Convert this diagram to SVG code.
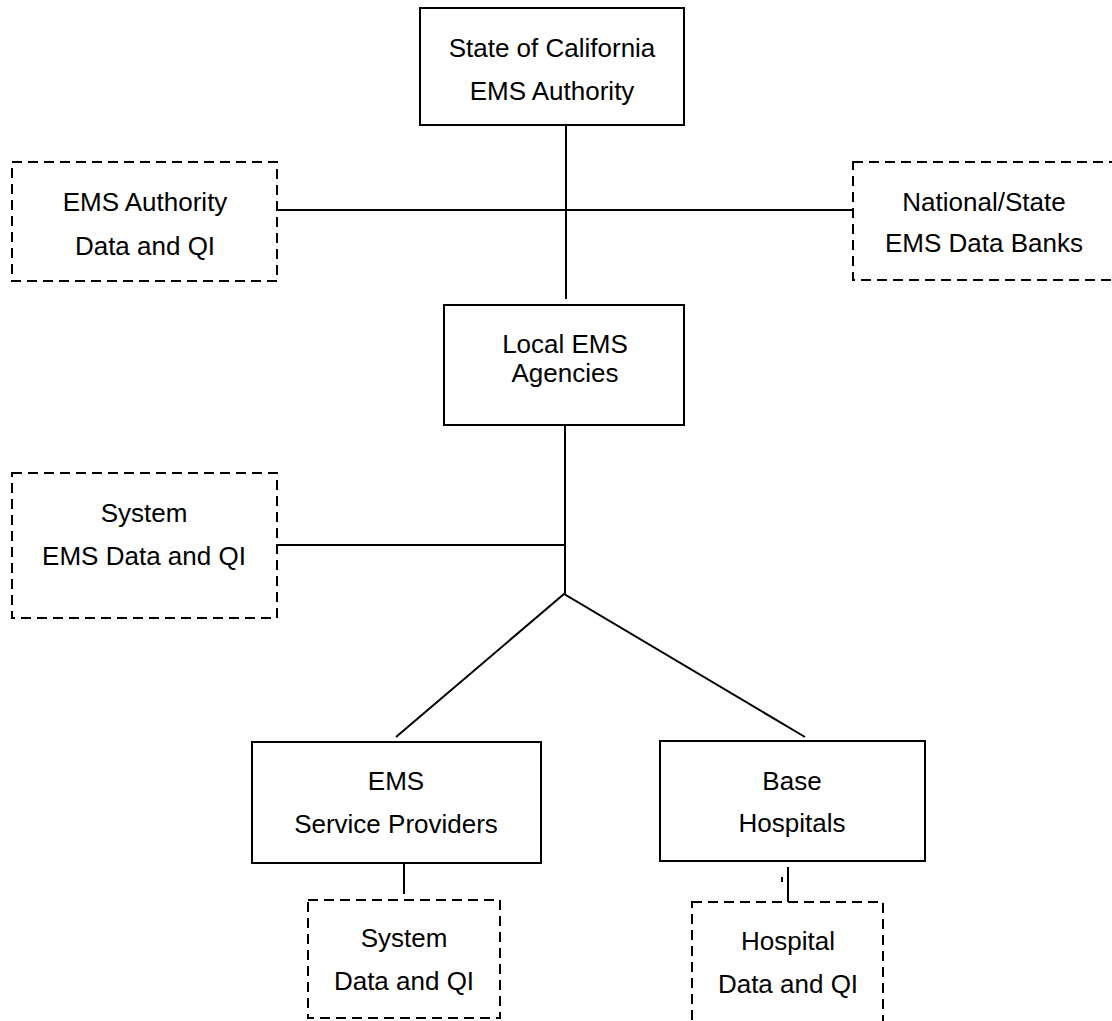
<svg xmlns="http://www.w3.org/2000/svg" width="1112" height="1021" viewBox="0 0 1112 1021">
<style>
.box{fill:#fff;stroke:#000;stroke-width:2}
.dbox{fill:#fff;stroke:#000;stroke-width:2;stroke-dasharray:10 6}
.t{font-family:"Liberation Sans",Arial,sans-serif;font-size:26px;fill:#000;text-anchor:middle}
.c{stroke:#000;stroke-width:2;fill:none}
</style>
<rect width="1112" height="1021" fill="#fff"/>
<g id="connectors">
<line class="c" x1="566" y1="125" x2="566" y2="299"/>
<line class="c" x1="277" y1="210" x2="853" y2="210"/>
<line class="c" x1="565" y1="425" x2="565" y2="594"/>
<line class="c" x1="277" y1="545" x2="565" y2="545"/>
<polyline class="c" points="396,737 564,594 805,737"/>
<line class="c" x1="404" y1="863" x2="404" y2="894"/>
<line class="c" x1="788" y1="867" x2="788" y2="902"/>
<line class="c" x1="782" y1="877" x2="782" y2="882"/>
</g>
<g id="state">
<rect class="box" x="420" y="8" width="264" height="117"/>
<text class="t" x="552" y="57">State of California</text>
<text class="t" x="552" y="100">EMS Authority</text>
</g>
<g id="ems-authority-data">
<rect class="dbox" x="12" y="162" width="265" height="119"/>
<text class="t" x="145" y="211">EMS Authority</text>
<text class="t" x="145" y="255">Data and QI</text>
</g>
<g id="national-state">
<rect class="dbox" x="853" y="162" width="262" height="118"/>
<text class="t" x="984" y="211">National/State</text>
<text class="t" x="984" y="252">EMS Data Banks</text>
</g>
<g id="local-ems">
<rect class="box" x="444" y="305" width="240" height="120"/>
<text class="t" x="565" y="353">Local EMS</text>
<text class="t" x="565" y="382">Agencies</text>
</g>
<g id="system-ems-data">
<rect class="dbox" x="12" y="473" width="265" height="145"/>
<text class="t" x="144" y="522">System</text>
<text class="t" x="144" y="565">EMS Data and QI</text>
</g>
<g id="ems-providers">
<rect class="box" x="252" y="742" width="289" height="121"/>
<text class="t" x="396" y="790">EMS</text>
<text class="t" x="396" y="833">Service Providers</text>
</g>
<g id="base-hospitals">
<rect class="box" x="660" y="741" width="265" height="120"/>
<text class="t" x="792" y="790">Base</text>
<text class="t" x="792" y="832">Hospitals</text>
</g>
<g id="system-data">
<rect class="dbox" x="308" y="900" width="192" height="118"/>
<text class="t" x="404" y="947">System</text>
<text class="t" x="404" y="990">Data and QI</text>
</g>
<g id="hospital-data">
<rect class="dbox" x="692" y="902" width="191" height="140"/>
<text class="t" x="788" y="950">Hospital</text>
<text class="t" x="788" y="993">Data and QI</text>
</g>
</svg>
